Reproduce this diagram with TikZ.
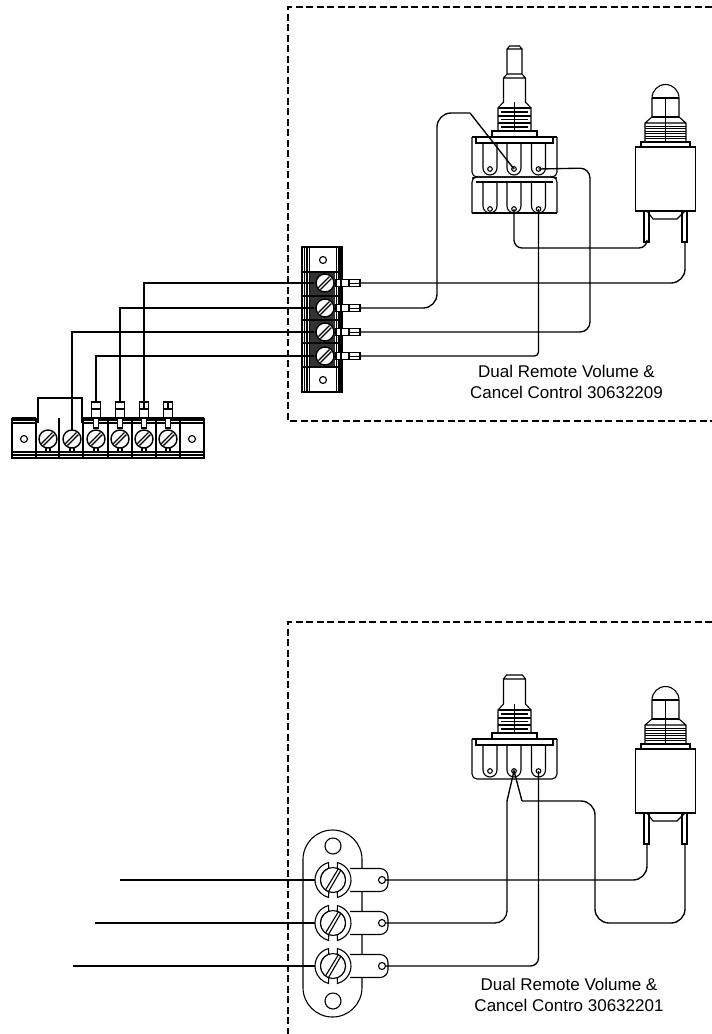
\documentclass[tikz,border=0pt]{standalone}
\usepackage{fontspec}
\setmainfont{Liberation Sans}
\tikzset{
	wire/.style={line width=1.35pt},
	part/.style={line width=1.1pt},
	fine/.style={line width=.5pt},
	bar/.style={line width=2.8pt},
	frame/.style={line width=1.2pt,dash pattern=on 7pt off 3.5pt},
	caption/.style={font=\fontsize{17}{20.5}\selectfont,align=center},
	% screw with a slot, for the two strips
	slotscrew/.pic={
		\draw[line width=1.4pt,fill=white] (0,0) circle[radius=9pt];
		\draw[line width=1.3pt] (-6.5,4.5) -- (4.5,-6.5) (-4.5,6.5) -- (6.5,-4.5);
	},
	% screw of the round plate
	ringscrew/.pic={
		\draw[part,fill=white] (104:18pt) arc[start angle=104,end angle=256,radius=18pt] -- (250:12.5pt) arc[start angle=250,end angle=110,radius=12.5pt] -- cycle;
		\draw[part,fill=white] (76:18pt) arc[start angle=76,end angle=-76,radius=18pt] -- (-70:12.5pt) arc[start angle=-70,end angle=70,radius=12.5pt] -- cycle;
		\draw[part,fill=white] (0,0) circle[radius=12.5pt];
		\draw[part] (-7.5,10) -- (5.5,-11.5) (-4.5,11.5) -- (8,-10);
	},
	% one deck of the pot with its three lugs
	potdeck/.pic={
		\draw[part,rounded corners=5pt] (-42.5,0) -- (-42.5,40) -- (42.5,40) -- (42.5,0);
		\draw[part] (-42.5,0) -- (42.5,0);
		\draw[part] (-38.5,0) rectangle (38.5,6);
		\foreach \i/\hx in {1/-24.5,2/-.5,3/24}{
			\draw[part] (\hx-7,6) -- (\hx-7,31) arc[start angle=180,end angle=360,radius=7pt] -- (\hx+7,6);
			\draw[part,fill=white] (\hx,32) circle[radius=2.3pt];
			\coordinate (-h\i) at (\hx,32);
		}
	},
	% lower deck, square at the bottom
	potdeckb/.pic={
		\draw[part] (-42.5,36) -- (42.5,36);
		\draw[part,rounded corners=4pt] (-42.5,36) -- (-42.5,1) -- (-38.5,0) -- (38.5,0) -- (42.5,1) -- (42.5,36);
		\draw[part] (-38.5,5) -- (38.5,5);
		\foreach \i/\hx in {1/-24.5,2/-.5,3/24}{
			\draw[part] (\hx-7,5) -- (\hx-7,29) arc[start angle=180,end angle=360,radius=7pt] -- (\hx+7,5);
			\draw[part,fill=white] (\hx,32) circle[radius=2.3pt];
			\coordinate (-h\i) at (\hx,32);
		}
	},
	% bushing and nut of the pot
	potneck/.pic={
		\draw[part] (-22.5,-6) rectangle (22.5,0);
		\draw[part] (-11,-35) -- (-16.5,-29) -- (-16.5,-6) (11,-35) -- (16.5,-29) -- (16.5,-6);
		\draw[part] (-16.5,-29) -- (16.5,-29) (-16.5,-21) -- (16.5,-21) (-16.5,-14) -- (16.5,-14);
		\draw[part] (-13.5,-25) -- (13.5,-25) (-13.5,-17.5) -- (13.5,-17.5) (-13.5,-10) -- (13.5,-10);
		\draw[fine] (0,-35) -- (0,-6);
	},
	% toggle switch, origin at the top of its body
	toggleswitch/.pic={
		\draw[part] (-13.5,-30) -- (-13.5,-49) arc[start angle=180,end angle=0,radius=13.5pt] -- (13.5,-30);
		\draw[part] (-13.5,-49) -- (13.5,-49) (-13.5,-30) -- (13.5,-30);
		\draw[part] (-13.5,-30) -- (-20.5,-24) -- (-20.5,-5) (13.5,-30) -- (20.5,-24) -- (20.5,-5) (-20.5,-24) -- (20.5,-24);
		\foreach \ty in {-21,-18.5,-16,-13.5,-11,-8.5}{
			\draw[line width=.7pt] (-20.5,\ty) -- (20.5,\ty);
		}
		\draw[fine] (0,-50) -- (0,-5);
		\draw[part] (-24.5,-5) rectangle (24.5,0);
		\draw[part] (-30,0) rectangle (30,64);
		\draw[part] (-18.5,64) -- (-12.5,72) -- (11.5,72) -- (19.5,64);
		\draw[part] (-21.5,64) rectangle (-16.5,95) (16.5,64) rectangle (21.5,95);
		\coordinate (-a) at (-18.5,95);
		\coordinate (-b) at (19.5,95);
	}
}
\begin{document}
\begin{tikzpicture}[x=1pt,y=-1pt]
	\useasboundingbox (0,0) rectangle (712,1034);
	% dashed frames
	\draw[frame] (712,7) -| (288,421) -- (712,421);
	\draw[frame] (712,622) -| (288,1034);

	% upper pot and switch
	\draw[part] (507,74) -- (507,49) -- (509.5,46) -- (519.5,46) -- (522,49) -- (522,74) -- (525.5,78) -- (525.5,103) (507,74) -- (503.5,78) -- (503.5,103) (507,74) -- (522,74) (503.5,78) -- (525.5,78) (507,49) -- (522,49);
	\pic at (514.5,137) {potneck};
	\pic (pa) at (514.5,137) {potdeck};
	\pic (pb) at (514.5,177) {potdeckb};
	\pic (sa) at (665.5,147) {toggleswitch};

	% right strip
	\draw[part,fill=white] (302,247) rectangle (342,392);
	\foreach \vx in {304.5,307,309.5,336.5,339,341}{
		\draw[part] (\vx,247) -- (\vx,392);
	}
	\fill[black!80] (310,272) rectangle (335,367);
	\foreach \hy in {272,296,320,343,367}{
		\draw[bar] (302,\hy) -- (342,\hy);
	}
	\foreach \hy in {260,380}{
		\draw[part,fill=white] (323,\hy) circle[radius=3.5pt];
	}
	\foreach \i/\hy in {1/283,2/308,3/332,4/356}{
		\draw[part,fill=white] (336,\hy-3.5) rectangle (341,\hy+3.5);
		\draw[part,fill=white] (341,\hy-3.5) rectangle (349,\hy+3.5);
		\draw[part,fill=white] (349,\hy-3.5) rectangle (360,\hy+3.5);
		\draw[fine] (349,\hy) -- (360,\hy);
		\coordinate (rs\i r) at (360,\hy);
		\coordinate (rs\i l) at (314,\hy);
	}
	\foreach \i/\hy in {1/283,2/308,3/332,4/356}{
		\pic at (325,\hy) {slotscrew};
	}

	% left strip
	\foreach \hy in {452,455,458}{
		\draw[part] (12,\hy) -- (204,\hy);
	}
	\foreach \hy in {418,420,423}{
		\draw[part] (12,\hy) -- (36,\hy) (83,\hy) -- (204,\hy);
	}
	\foreach \vx in {12,204}{
		\draw[part] (\vx,418) -- (\vx,459);
	}
	\foreach \vx in {36,59,83,108,132,156,180}{
		\draw[bar] (\vx,418) -- (\vx,459);
	}
	\draw[part] (38,423) -- (38,398) -- (82,398) -- (82,423);
	\foreach \hx in {24,192}{
		\draw[part,fill=white] (\hx,439) circle[radius=3.5pt];
	}
	\foreach \i/\hx in {1/48,2/72,3/96,4/120,5/144,6/168}{
		\draw[part] (\hx-2,447) rectangle (\hx+2,452);
		\pic at (\hx,439) {slotscrew};
		\coordinate (ls\i) at (\hx,402);
	}
	\foreach \i/\hx in {3/96,4/120,5/144,6/168}{
		\draw[part,fill=white] (\hx-2.5,418) rectangle (\hx+2.5,428);
		\draw[part,fill=white] (\hx-4.5,402) rectangle (\hx+4.5,418);
		\draw[part] (\hx-4.5,409) -- (\hx+4.5,409);
	}
	\foreach \hx in {144,168}{
		\draw[part] (\hx,402) -- (\hx,409);
	}
	\coordinate (lj) at (72,398);
	\coordinate (lk) at (72,430);

	% wires of the upper group
	\draw[wire] (rs1l) -| (ls5);
	\draw[wire] (rs2l) -| (ls4);
	\draw[wire] (rs3l) -| (lj) -- (lk);
	\draw[wire] (rs4l) -| (ls3);
	\coordinate (b1) at (437,113);
	\coordinate (b2) at (470,113);
	\coordinate (b3) at (590,168);
	\coordinate (b4) at (647,248);
	\draw[wire,rounded corners=14pt] (rs1r) -| (sa-b);
	\draw[wire,rounded corners=14pt] (rs2r) -| (b1) -- (b2);
	\draw[wire] (b2) -- (pa-h2);
	\draw[wire,rounded corners=10pt] (rs3r) -| (b3) -- (pa-h3);
	\draw[wire,rounded corners=4pt] (rs4r) -| (pb-h3);
	\draw[wire,rounded corners=8pt] (pb-h2) |- (b4) -- (sa-a);
	\node[caption] (lbla) at (566.5,382) {Dual Remote Volume \&\\Cancel Control 30632209};

	% lower pot and switch
	\draw[part] (503.5,704) -- (503.5,679) -- (506.5,675) -- (522.5,675) -- (525.5,679) -- (525.5,704) (503.5,679) -- (525.5,679);
	\pic at (514.5,739) {potneck};
	\pic (pc) at (514.5,739) {potdeck};
	\pic (sb) at (665.5,749) {toggleswitch};

	% round plate
	\draw[part,rounded corners=29.5pt] (303,830) rectangle (362,1017);
	\foreach \hy in {846,1001}{
		\draw[part] (333,\hy) circle[radius=8pt];
	}
	\foreach \i/\hy/\wx in {1/880/120,2/923/95,3/966/73}{
		\draw[part,fill=white,rounded corners=8pt] (350,\hy-11.5) -- (388,\hy-11.5) -- (388,\hy+11.5) -- (350,\hy+11.5);
		\draw[part,fill=white] (382,\hy) circle[radius=3.5pt];
		\coordinate (ps\i r) at (385.5,\hy);
		\coordinate (ps\i l) at (315,\hy);
		\coordinate (pw\i) at (\wx,\hy);
		\draw[wire] (pw\i) -- (ps\i l);
		\pic at (333,\hy) {ringscrew};
	}

	% wires of the lower group
	\coordinate (c1) at (507,801);
	\coordinate (c2) at (522,801);
	\coordinate (c3) at (595,923);
	\draw[wire,rounded corners=14pt] (ps1r) -| (sb-a);
	\draw[wire,rounded corners=12pt] (ps2r) -| (c1);
	\draw[wire] (c1) -- (pc-h2) -- (c2);
	\draw[wire,rounded corners=14pt] (c2) -| (c3) -| (sb-b);
	\draw[wire,rounded corners=8pt] (ps3r) -| (pc-h3);
	\node[caption] (lblb) at (569,995) {Dual Remote Volume \&\\Cancel Contro 30632201};
\end{tikzpicture}
\end{document}
